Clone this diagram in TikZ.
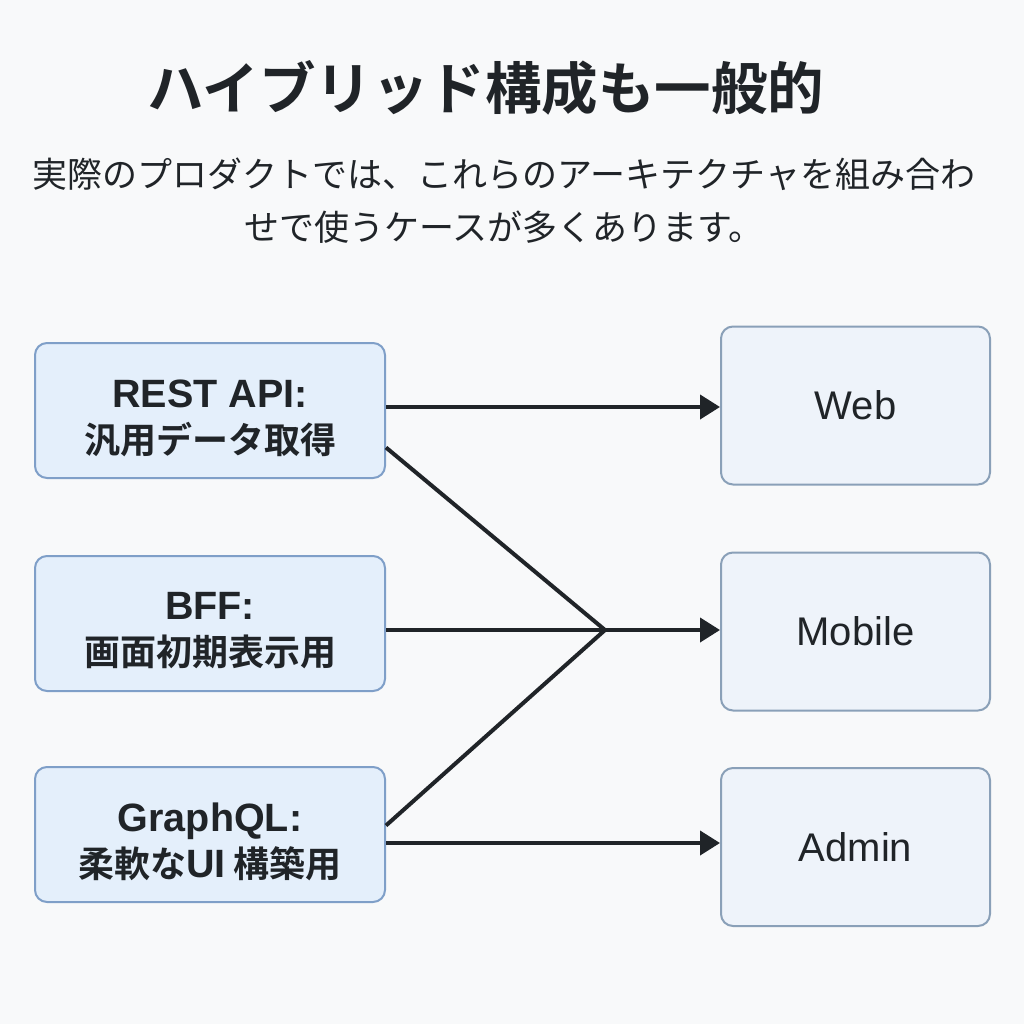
\documentclass[tikz,border=0pt]{standalone}
\usepackage{fontspec}
\setmainfont{Noto Sans CJK JP}[BoldFont={Noto Sans CJK JP Bold}]
\newfontfamily\lat{Liberation Sans}
\usetikzlibrary{arrows.meta,calc}
\definecolor{bgcol}{HTML}{F8F9FA}
\definecolor{ink}{HTML}{202428}
\definecolor{lfill}{HTML}{E4EFFB}
\definecolor{ldraw}{HTML}{7F9FC8}
\definecolor{rfill}{HTML}{EEF3FA}
\definecolor{rdraw}{HTML}{8AA0B8}
\newcommand{\latn}[1]{{\lat\fontsize{39.5}{45}\selectfont #1}}
\tikzset{
  leftbox/.style={draw=ldraw, fill=lfill, line width=2pt, rounded corners=12pt,
    minimum width=350pt, minimum height=135pt, inner sep=0pt},
  lefttext/.style={inner sep=0pt, align=center,
    font=\fontsize{36}{46}\selectfont\bfseries, text=ink},
  rightbox/.style={draw=rdraw, fill=rfill, line width=2pt, rounded corners=12pt,
    minimum width=269pt, minimum height=158pt, inner sep=0pt, align=center,
    font=\lat\fontsize{40}{45}\selectfont, text=ink},
  conn/.style={draw=ink, line width=4pt},
  arr/.style={conn, -{Triangle[length=20pt,width=24pt]}},
}
\begin{document}
\begin{tikzpicture}[x=1pt,y=-1pt]
\fill[bgcol] (0,0) rectangle (1024,1024);
\useasboundingbox (0,0) rectangle (1024,1024);
\node[font=\fontsize{56.5}{60}\selectfont\bfseries, text=ink] (title) at (486,88) {ハイブリッド構成も一般的};
\node[font=\fontsize{35}{53}\selectfont, text=ink, align=center] (sub) at (504,201) {実際のプロダクトでは、これらのアーキテクチャを組み合わ\\せで使うケースが多くあります。};
\node[leftbox] (rest) at (210,410.5) {};
\node[lefttext] (restt) at (210,418) {\latn{REST API:}\\汎用データ取得};
\node[leftbox] (bff) at (210,623.5) {};
\node[lefttext] (bfft) at (210,631) {\latn{BFF:}\\画面初期表示用};
\node[leftbox] (gql) at (210,834.5) {};
\node[lefttext] (gqlt) at (210,842) {\latn{GraphQL:}\\柔軟な\latn{UI} 構築用};
\node[rightbox] (web) at (855.5,405.5) {Web};
\node[rightbox] (mob) at (855.5,631.5) {Mobile};
\node[rightbox] (adm) at (855.5,847) {Admin};
\coordinate (j) at (605,630);
\draw[arr] (rest.east |- 0,407) -- (web.west |- 0,407);
\draw[conn] ($(rest.east)+(0,37)$) -- (j);
\draw[conn] (bff.east |- j) -- (j);
\draw[conn] ($(gql.east)+(0,-9)$) -- (j);
\draw[arr] (j) -- (mob.west |- j);
\draw[arr] (gql.east |- 0,843) -- (adm.west |- 0,843);
\end{tikzpicture}
\end{document}
